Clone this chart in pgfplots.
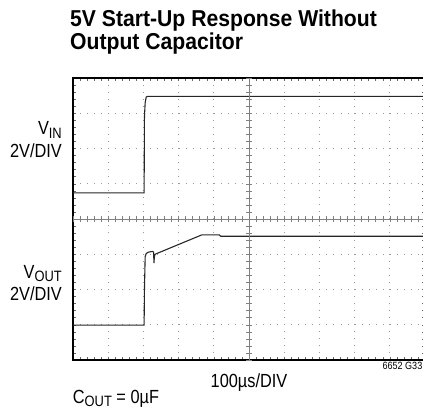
\documentclass[border=0pt]{standalone}
\usepackage{pgfplots}
\pgfplotsset{compat=1.18}
\usepackage{fontspec}
\setmainfont{Liberation Sans}
\newfontfamily\condfont{Liberation Sans}[FakeStretch=0.86]
\newfontfamily\titlefont{Liberation Sans}[FakeStretch=0.92]

\begin{document}
\begin{tikzpicture}[x=1pt,y=1pt]
\useasboundingbox (0,0) rectangle (423,413);
% main box, grid, border ticks and traces
\begin{axis}[at={(73pt,53pt)},anchor=south west, scale only axis,
  width=352pt,height=282pt,
  xmin=0,xmax=10,ymin=0,ymax=8,
  xtick={0,...,10}, ytick={0,...,8},
  minor x tick num=4, minor y tick num=4,
  xticklabels={}, yticklabels={},
  grid=major,
  grid style={gray!80, line width=0.7pt, dash pattern=on 0.8pt off 6.24pt},
  tick align=inside, major tick length=3pt, minor tick length=3pt,
  tick style={gray!80!black, line width=0.5pt},
  axis line style={line width=1.6pt},
  clip=false]
\addplot[black!85, line width=1.1pt] coordinates {
 (0,4.74) (2.02,4.74) (2.03,6.9) (2.05,7.3) (2.08,7.46) (2.12,7.48) (10,7.48)};
\addplot[black!85, line width=1.1pt] coordinates {
 (0,0.99) (2.02,0.99) (2.03,2.0) (2.05,2.93) (2.08,3.02) (2.14,3.06)
 (2.26,3.08) (2.29,3.06) (2.30,2.75) (2.31,2.9) (2.33,3.0)
 (3.66,3.55) (4.15,3.55) (4.2,3.51) (10,3.51)};
\end{axis}
% crosshair with ticks
\begin{axis}[at={(73pt,53pt)},anchor=south west, scale only axis,
  width=352pt,height=282pt,
  xmin=-5,xmax=5,ymin=-4,ymax=4,
  axis lines=middle,
  axis line style={gray, line width=0.5pt, -},
  xtick={-5,...,5}, ytick={-4,...,4},
  minor x tick num=4, minor y tick num=4,
  xticklabels={}, yticklabels={},
  tick align=center, major tick length=6pt, minor tick length=6pt,
  tick style={gray, line width=0.5pt}]
\end{axis}
% texts
\node[anchor=base west, inner sep=0pt] at (70,386) {\titlefont\fontsize{23}{26}\selectfont\bfseries 5V Start-Up Response Without};
\node[anchor=base west, inner sep=0pt] at (70,363) {\titlefont\fontsize{23}{26}\selectfont\bfseries Output Capacitor};
\node[anchor=base east, inner sep=0pt] at (62,278) {\condfont\fontsize{19}{22}\selectfont V\raisebox{-3.5pt}[0pt][0pt]{\fontsize{15}{15}\selectfont IN}};
\node[anchor=base east, inner sep=0pt] at (62,255.5) {\condfont\fontsize{19}{22}\selectfont 2V/DIV};
\node[anchor=base east, inner sep=0pt] at (62,135) {\condfont\fontsize{19}{22}\selectfont V\raisebox{-3.5pt}[0pt][0pt]{\fontsize{15}{15}\selectfont OUT}};
\node[anchor=base east, inner sep=0pt] at (62,112.5) {\condfont\fontsize{19}{22}\selectfont 2V/DIV};
\node[anchor=base, inner sep=0pt] at (249,26) {\condfont\fontsize{19}{22}\selectfont 100µs/DIV};
\node[anchor=base west, inner sep=0pt] at (72.7,9.7) {\condfont\fontsize{19}{22}\selectfont C\raisebox{-3.5pt}[0pt][0pt]{\fontsize{15}{15}\selectfont OUT} = 0µF};
\node[anchor=base east, inner sep=0pt] at (422.5,44) {\condfont\fontsize{10.5}{12}\selectfont 6652 G33};
\end{tikzpicture}
\end{document}
